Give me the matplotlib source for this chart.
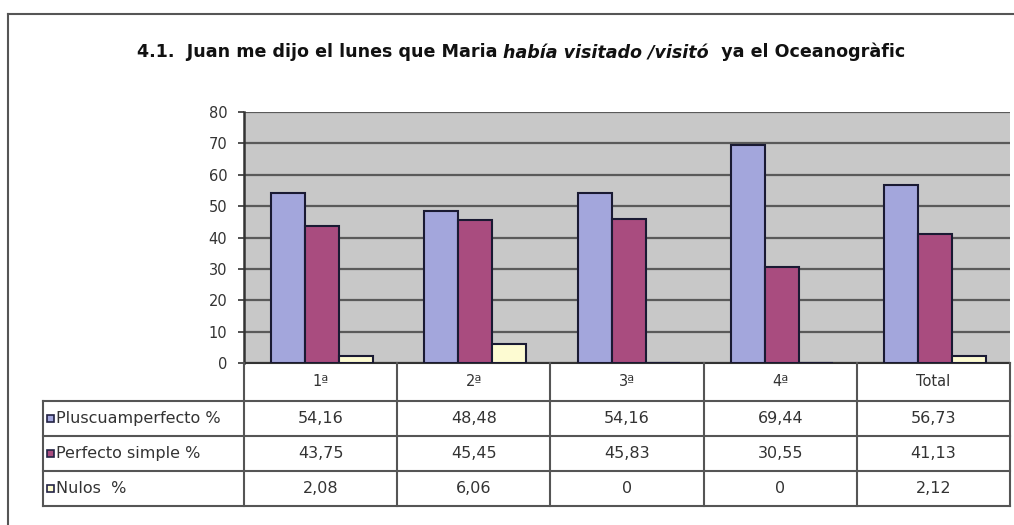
import numpy as np
import matplotlib
matplotlib.use('Agg')
import matplotlib.pyplot as plt
from matplotlib.patches import Rectangle
from matplotlib.lines import Line2D

plt.rcParams['font.family'] = ['DejaVu Sans']

categories = ['1ª', '2ª', '3ª', '4ª', 'Total']
series_names = ['Pluscuamperfecto %', 'Perfecto simple %', 'Nulos  %']
pluscuam = [54.16, 48.48, 54.16, 69.44, 56.73]
perfecto = [43.75, 45.45, 45.83, 30.55, 41.13]
nulos = [2.08, 6.06, 0, 0, 2.12]
colors = ['#a3a6dc', '#a94c7f', '#fdfbd2']

W, H = 1014, 525
fig = plt.figure(figsize=(W / 100, H / 100), dpi=100)
fig.patch.set_facecolor('white')

# outer frame (only top/left visible in the crop)
fig.add_artist(Line2D([8 / W, 8 / W], [0, 1 - 14 / H], color='#555555', lw=1.5))
fig.add_artist(Line2D([8 / W, 1], [1 - 14 / H, 1 - 14 / H], color='#555555', lw=1.5))

left, right, top, bottom = 244, 1010, 112, 363
ax = fig.add_axes([left / W, 1 - bottom / H, (right - left) / W, (bottom - top) / H])
ax.set_facecolor('#c8c8c8')

n = len(categories)
x = np.arange(n) + 0.5
bw = 0.222
for k, vals in enumerate([pluscuam, perfecto, nulos]):
    ax.bar(x + (k - 1) * bw + 0.01, vals, width=bw, color=colors[k],
           edgecolor='#1a1a33', linewidth=1.5, zorder=3)

ax.set_xlim(0, n)
ax.set_ylim(0, 80)
ax.set_yticks(range(0, 81, 10))
ax.yaxis.grid(True, color='#5a5a5a', lw=1.6, zorder=1)
ax.set_axisbelow(True)
ax.set_xticks([])
ax.tick_params(axis='y', labelsize=10.5, colors='#333333', length=4, width=1.2, pad=8)
for s in ['top', 'right']:
    ax.spines[s].set_visible(False)
ax.spines['left'].set_color('#333333')
ax.spines['left'].set_linewidth(1.8)
ax.spines['bottom'].set_color('#333333')
ax.spines['bottom'].set_linewidth(1.5)

# data table under the chart, drawn by hand
def fmt(v):
    return '0' if v == 0 else '{:.2f}'.format(v).replace('.', ',')

tleft, tbottom = 43, 506
head_h, row_h = 38, 35
cat_px = (right - left) / n
lab_w = (left - tleft) / cat_px
tax = fig.add_axes([tleft / W, 1 - tbottom / H, (right - tleft) / W, (tbottom - bottom) / H])
tax.set_xlim(-lab_w, n)
tax.set_ylim(head_h + row_h * 3, 0)
tax.axis('off')
lc, lw = '#555555', 1.5
nrows = len(series_names)
ybot = head_h + row_h * nrows
for i in range(n + 1):
    tax.plot([i, i], [0, ybot], color=lc, lw=lw, clip_on=False)
tax.plot([-lab_w, -lab_w], [head_h, ybot], color=lc, lw=lw, clip_on=False)
for j in range(nrows + 1):
    yy = head_h + row_h * j
    tax.plot([-lab_w, n], [yy, yy], color=lc, lw=lw, clip_on=False)
for i, c in enumerate(categories):
    tax.text(i + 0.5, head_h / 2, c, ha='center', va='center', fontsize=10.5, color='#333333')
for j, (name, vals) in enumerate(zip(series_names, [pluscuam, perfecto, nulos])):
    yc = head_h + row_h * j + row_h / 2
    tax.add_patch(Rectangle((-lab_w + 4 / cat_px, yc - 3.5), 7 / cat_px, 7,
                            facecolor=colors[j], edgecolor='#222244', lw=1.2,
                            clip_on=False, zorder=5))
    tax.text(-lab_w + 13 / cat_px, yc, name, ha='left', va='center',
             fontsize=11.5, color='#333333')
    for i, v in enumerate(vals):
        tax.text(i + 0.5, yc, fmt(v), ha='center', va='center',
                 fontsize=11.5, color='#333333')

# title with italic part (italic piece nudged down, it renders a bit high)
parts = [('4.1.  Juan me dijo el lunes que Maria ', 'normal', 0),
         ('había visitado /visitó', 'italic', 1.5),
         ('  ya el Oceanogràfic', 'normal', 0)]
renderer = fig.canvas.get_renderer()
texts = []
for s, st, dy in parts:
    t = fig.text(0, 1 - (57 + dy) / H, s, fontsize=12.6, fontweight='bold', style=st,
                 va='baseline', ha='left', color='#111111')
    texts.append(t)
widths = [t.get_window_extent(renderer).width for t in texts]
xpos = (521 - sum(widths) / 2)
for t, w in zip(texts, widths):
    t.set_x(xpos / W)
    xpos += w

fig.savefig('out.png', dpi=100)
